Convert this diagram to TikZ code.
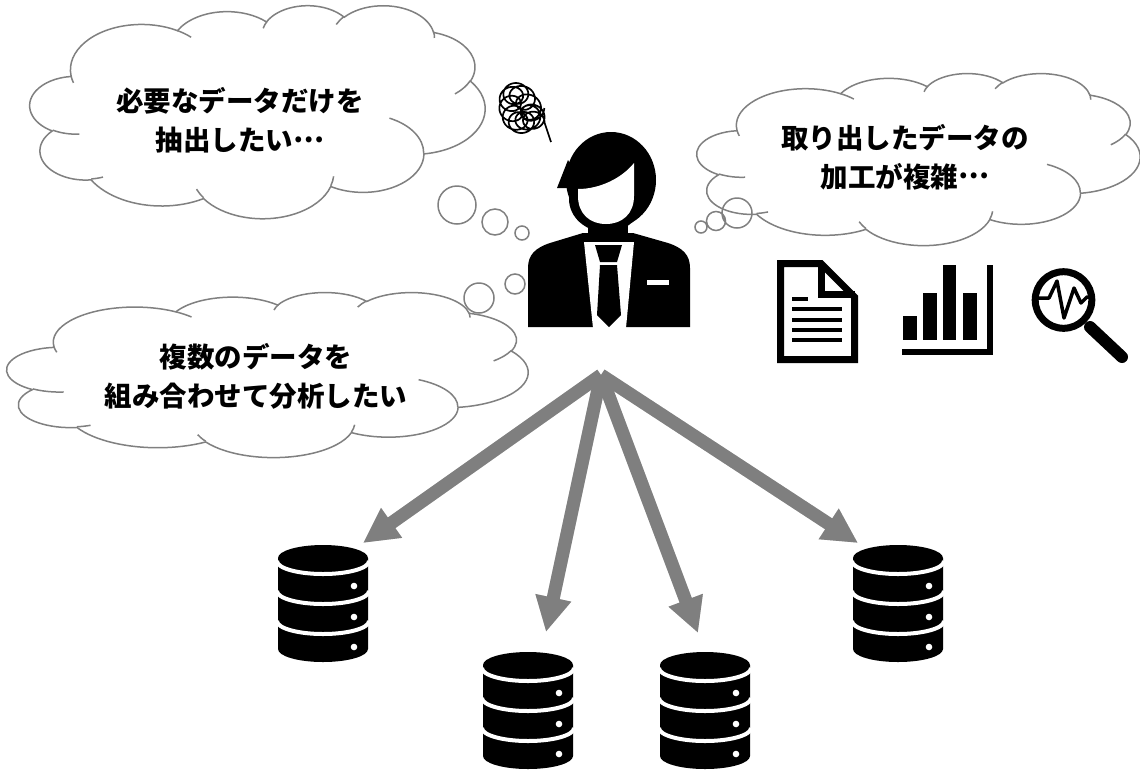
\documentclass[tikz,border=0pt]{standalone}
\usepackage{fontspec}
\newfontfamily\jpfont{Noto Sans CJK JP}
\usetikzlibrary{arrows.meta}
\definecolor{edgegray}{HTML}{808080}
\definecolor{arrowgray}{HTML}{7F7F7F}

% Cloud outline on a 432 x 432 grid; arc angles are ellipse (visual) angles,
% turned into parametric angles for TikZ.
\makeatletter
\newcommand\cloudpath{}
\newcommand\addcloudarc[4]{%
  \pgfmathsetmacro\cl@a{atan2(#1*sin(#3),#2*cos(#3))}%
  \pgfmathsetmacro\cl@b{atan2(#1*sin(#3+#4),#2*cos(#3+#4))}%
  \pgfmathsetmacro\cl@d{\cl@b-\cl@a}%
  \pgfmathsetmacro\cl@d{ifthenelse(\cl@d<0,\cl@d+360,\cl@d)}%
  \xdef\cloudpath{\cloudpath arc[x radius=#1,y radius=#2,start angle=\cl@a,delta angle=\cl@d]}%
}
\newcommand\addcloudmove[2]{\xdef\cloudpath{\cloudpath (#1,#2)}}
\makeatother

\gdef\cloudpath{}
\addcloudmove{39.00}{143.70}
\addcloudarc{67.53}{91.90}{-190.48748}{123.78053}
\addcloudarc{53.33}{72.67}{-144.10238}{89.94523}
\addcloudarc{43.65}{59.45}{-145.80792}{99.72302}
\addcloudarc{48.57}{65.95}{-130.98607}{117.24173}
\addcloudarc{53.33}{72.73}{-78.70888}{109.02692}
\addcloudarc{67.75}{92.20}{-46.26725}{130.26900}
\addcloudarc{57.85}{78.67}{0.62502}{114.03333}
\addcloudarc{67.52}{92.15}{22.45160}{115.17255}
\addcloudarc{77.20}{105.43}{66.24263}{75.71102}
\addcloudarc{43.60}{59.18}{-274.94208}{146.73557}
\addcloudarc{43.45}{59.45}{-246.82850}{152.51885}
\xdef\cloudmain{\cloudpath -- cycle}

\gdef\cloudpath{}
\addcloudmove{46.93}{261.77}\addcloudarc{43.45}{59.45}{86.7420}{26.4295}
\addcloudmove{69.28}{348.99}\addcloudarc{43.60}{59.18}{73.6105}{11.4475}
\addcloudmove{164.78}{390.90}\addcloudarc{67.52}{92.15}{137.6242}{14.0811}
\addcloudmove{288.27}{347.51}\addcloudarc{67.52}{92.15}{6.4533}{15.9984}
\addcloudmove{341.29}{229.54}\addcloudarc{57.85}{78.67}{-70.2924}{70.9174}
\addcloudmove{417.98}{153.54}\addcloudarc{53.33}{72.73}{30.3180}{27.7515}
\addcloudmove{383.24}{54.26}\addcloudarc{48.57}{65.95}{-13.7443}{14.8505}
\addcloudmove{290.78}{39.52}\addcloudarc{48.57}{65.95}{-149.1815}{18.1976}
\addcloudmove{221.41}{47.20}\addcloudarc{43.65}{59.45}{-163.4943}{17.6864}
\addcloudmove{140.00}{51.92}\addcloudarc{67.53}{91.90}{-66.7070}{12.3194}
\addcloudmove{41.27}{157.89}\addcloudarc{67.53}{91.90}{157.6544}{11.8582}
\xdef\cloudcrease{\cloudpath}

% ellipsis set on the middle line, as in Japanese typesetting
\newcommand\middots{\raisebox{0.3em}{…}}

\tikzset{
  cloudedge/.style={draw=edgegray, line width=1.5pt},
  bubble/.style={draw=edgegray, line width=1.5pt},
  thought/.style={align=center, inner sep=0pt,
    font=\jpfont\bfseries\fontsize{27.5}{39}\selectfont},
  flow/.style={draw=arrowgray, line width=13pt, -{Triangle[length=35pt,width=34pt]}},
  flowshade/.style={draw=black!18, line width=13pt, -{Triangle[length=35pt,width=34pt]}},
  iconline/.style={line width=4.5pt},
}

% cloud: left, top, width, height
\newcommand\drawcloud[4]{%
  \begin{scope}[shift={(#1,#2)}, xscale=#3/432, yscale=#4/432]
    \path[cloudedge, fill=white] \cloudmain;
    \path[cloudedge] \cloudcrease;
  \end{scope}}

% database cylinder: name, left, top
\newcommand\database[3]{%
  \begin{scope}[shift={(#2,#3)}]
    \fill (0,13) arc[start angle=180, end angle=360, x radius=45, y radius=13]
      -- (90,104) arc[start angle=0, end angle=180, x radius=45, y radius=13] -- cycle;
    \foreach \yy in {16,46,76}
      \draw[white, line width=4pt] (-1,\yy) arc[start angle=180, end angle=0, x radius=46, y radius=13];
    \foreach \yy in {41,72,102}
      \fill[white] (76,\yy) circle (3.3);
    \coordinate (#1) at (45,58);
  \end{scope}}

\begin{document}
\begin{tikzpicture}[x=1pt, y=-1pt]
\fill[white] (0,0) rectangle (1140,772);
\useasboundingbox (0,0) rectangle (1140,772);

% thought clouds
\drawcloud{30}{5}{455}{213}
\drawcloud{697}{73}{443}{172}
\drawcloud{7}{292}{521}{165}

% bubbles trailing from the clouds
\draw[bubble] (457,205) circle (19) (495,222) circle (13) (522,233) circle (7);
\draw[bubble] (737,213) circle (15) (716,221) circle (9.5) (701,227) circle (6);
\draw[bubble] (479,298) circle (15) (515,284) circle (10);

\node[thought] (need) at (240,120.5) {必要なデータだけを\\抽出したい\middots};
\node[thought] (proc) at (905,157) {取り出したデータの\\加工が複雑\middots};
\node[thought] (combine) at (256,376) {複数のデータを\\組み合わせて分析したい};

% tangled scribble above the head
\draw[line width=1.7pt, line join=round]
  plot[smooth, domain=0:3960, samples=520]
  ({522+11*cos(\x)+12*cos(0.09*\x+20)}, {108+10*sin(\x)+15*sin(0.11*\x)}) -- (551,142);

% person
\fill (611,180) ellipse[x radius=45, y radius=48];
\fill (606,199) ellipse[x radius=37, y radius=33];
\fill (557,188) -- (568,160) -- (582,188) -- cycle;
\fill[white] (578,189) .. controls (600,189) and (622,178) .. (634,163)
  -- (634,196) .. controls (634,214) and (622,224) .. (606,224)
  .. controls (590,224) and (578,214) .. (578,196) -- cycle;
\fill (588,225) rectangle (628,245);
\fill (528,327) -- (528,268) .. controls (528,255) and (535,248) .. (550,243)
  -- (583,233) -- (633,233) -- (668,243) .. controls (683,248) and (690,255) .. (690,268)
  -- (690,327) -- cycle;
\fill[white] (584,242) -- (634,242) -- (626,328) -- (593,328) -- cycle;
\fill (595,245) -- (622,245) -- (617,262) -- (600,262) -- cycle;
\fill (600,265) -- (617,265) -- (621,315) -- (609,327) -- (597,315) -- cycle;
\fill[white] (647,280) rectangle (669,285);

% document icon
\draw[line width=7pt, line join=miter] (780.5,263.5) -- (821,263.5) -- (854.5,297) -- (854.5,359.5) -- (780.5,359.5) -- cycle;
\draw[line width=7pt] (821,263.5) -- (821,294) -- (854.5,294);
\draw[iconline] (792,299) -- (808,299);
\foreach \yy in {309,320,330,340} \draw[iconline] (792,\yy) -- (842,\yy);

% bar chart icon
\fill (987,265) rectangle (993,355);
\fill (902,349) rectangle (993,355);
\fill (903,316) rectangle (917,340);
\fill (923,293) rectangle (937,340);
\fill (943,265) rectangle (956,340);
\fill (963,293) rectangle (977,340);

% magnifier icon
\draw[line width=7pt] (1063.5,300) circle (28.3);
\draw[line width=12pt, line cap=round] (1090,327) -- (1122,357);
\draw[line width=3.5pt, line join=round] (1037,298) -- (1049,298) -- (1057,281) -- (1064,318) -- (1074,288) -- (1081,303) -- (1087,297) -- (1091,297);

% databases
\database{db1}{278}{545}
\database{db2}{483}{652}
\database{db3}{660}{652}
\database{db4}{853}{545}

% connectors
\coordinate (hub) at (601,375);
\coordinate (tip1) at (363,543);
\coordinate (tip2) at (546,632);
\coordinate (tip3) at (698,633);
\coordinate (tip4) at (858,543);
\begin{scope}[shift={(2,3)}]
  \foreach \t in {tip1,tip2,tip3,tip4} \draw[flowshade] (hub) -- (\t);
\end{scope}
\foreach \t in {tip1,tip2,tip3,tip4} \draw[flow] (hub) -- (\t);
\end{tikzpicture}
\end{document}
